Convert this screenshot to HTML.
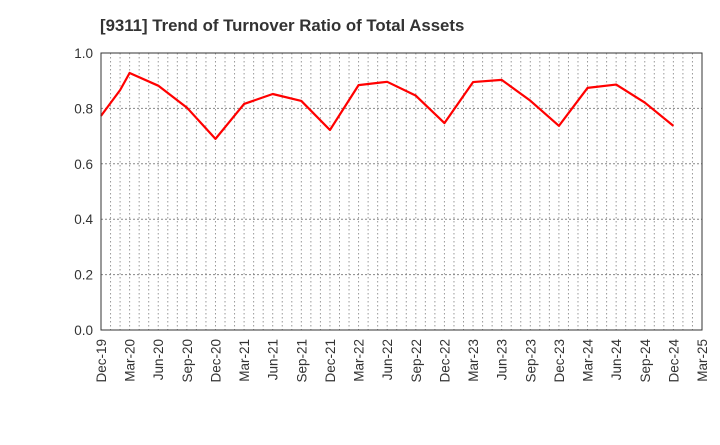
<!DOCTYPE html>
<html><head><meta charset="utf-8"><style>
body{margin:0;background:#fff;}
svg text{font-family:"Liberation Sans",Arial,sans-serif;}
</style></head><body>
<svg id="chart" width="720" height="440" xmlns="http://www.w3.org/2000/svg">
<text x="100" y="31" font-size="16.8" font-weight="bold" fill="#333">[9311]  Trend of Turnover Ratio of Total Assets</text>
<g id="grid"></g>
<g id="axes"></g>
<polyline id="line" fill="none" stroke="#ff0000" stroke-width="2.2" stroke-linejoin="round"/>
<rect x="101" y="53" width="601" height="277" fill="none" stroke="#333" stroke-width="1"/>
</svg>
<script>
const xLabels=["Dec-19","Mar-20","Jun-20","Sep-20","Dec-20","Mar-21","Jun-21","Sep-21","Dec-21","Mar-22","Jun-22","Sep-22","Dec-22","Mar-23","Jun-23","Sep-23","Dec-23","Mar-24","Jun-24","Sep-24","Dec-24","Mar-25"];
const yTicks=[0,0.2,0.4,0.6,0.8,1.0];
const monthIdx=[0,2,3,6,9,12,15,18,21,24,27,30,33,36,39,42,45,48,51,54,57,60];
const values=[0.773,0.866,0.928,0.882,0.803,0.69,0.816,0.852,0.827,0.722,0.884,0.896,0.846,0.747,0.895,0.903,0.828,0.737,0.874,0.886,0.821,0.737];
const L=101,R=702,T=53,B=330,NM=63;
const xs=m=>L+(R-L)*m/NM;
const ys=v=>B-(B-T)*v/1.0;
const ns="http://www.w3.org/2000/svg";
const grid=document.getElementById('grid'),axes=document.getElementById('axes');
for(let m=1;m<NM;m++){const l=document.createElementNS(ns,'line');


const x=xs(m);l.setAttribute('x1',x);l.setAttribute('x2',x);l.setAttribute('y1',T);l.setAttribute('y2',B);
l.setAttribute('stroke','#999');l.setAttribute('stroke-dasharray','1.5,2.5');grid.appendChild(l);}
yTicks.forEach(v=>{const y=ys(v);
if(v>0&&v<1){const l=document.createElementNS(ns,'line');


l.setAttribute('x1',L);l.setAttribute('x2',R);l.setAttribute('y1',y);l.setAttribute('y2',y);
l.setAttribute('stroke','#888');l.setAttribute('stroke-dasharray','2,2');grid.appendChild(l);}
const t=document.createElementNS(ns,'text');


t.setAttribute('x',L-8);t.setAttribute('y',y+5);t.setAttribute('text-anchor','end');t.setAttribute('font-size','13.5');t.setAttribute('fill','#333');
t.textContent=v.toFixed(1);axes.appendChild(t);});
xLabels.forEach((s,i)=>{const x=xs(i*3);
const t=document.createElementNS(ns,'text');


t.setAttribute('transform',`translate(${x+5},${B+9}) rotate(-90)`);t.setAttribute('text-anchor','end');t.setAttribute('font-size','13.5');t.setAttribute('fill','#333');
t.textContent=s;axes.appendChild(t);});
document.getElementById('line').setAttribute('points',values.map((v,i)=>xs(monthIdx[i])+','+ys(v)).join(' '));
</script>
</body></html>
